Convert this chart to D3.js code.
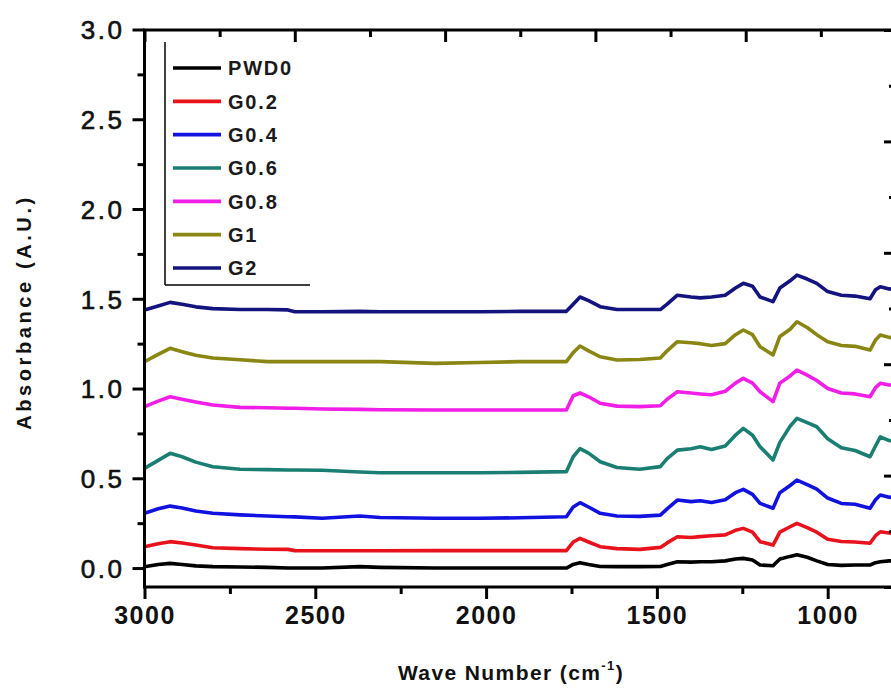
<!DOCTYPE html>
<html>
<head>
<meta charset="utf-8">
<script src="https://cdn.jsdelivr.net/npm/d3@7/dist/d3.min.js"></script>
<style>
  html, body { margin: 0; padding: 0; background: #fff; }
  svg { display: block; font-family: "Liberation Sans", Arial, sans-serif; }
</style>
</head>
<body>
<svg id="chart" width="891" height="688"></svg>
<script>
// ---- Data ----
const waveNumbers = [3000, 2960, 2925, 2890, 2850, 2800, 2720, 2640, 2580, 2560, 2480, 2370, 2310, 2150, 2020, 1900,
  1765, 1745, 1725, 1700, 1666, 1617, 1550, 1490, 1470, 1440, 1400, 1373, 1340, 1300, 1270, 1247, 1220, 1198,
  1160, 1140, 1110, 1090, 1060, 1032, 1000, 960, 920, 876, 860, 846, 820, 800];

const seriesNames = ["PWD0", "G0.2", "G0.4", "G0.6", "G0.8", "G1", "G2"];
const seriesColors = ["#000000", "#e8121c", "#1212e0", "#1a7f72", "#f01ee6", "#8a8614", "#14147e"];

const PWD0 = [0.007, 0.020, 0.026, 0.020, 0.012, 0.008, 0.006, 0.004, 0.000, 0.000, 0.000, 0.008, 0.004, 0.000, 0.000, 0.000,
  0.000, 0.020, 0.030, 0.020, 0.009, 0.008, 0.008, 0.009, 0.020, 0.035, 0.033, 0.035, 0.035, 0.040, 0.050, 0.054, 0.045, 0.017,
  0.013, 0.050, 0.065, 0.074, 0.060, 0.040, 0.020, 0.015, 0.017, 0.017, 0.030, 0.035, 0.040, 0.040];
const G02 = [0.119, 0.135, 0.147, 0.140, 0.128, 0.113, 0.108, 0.105, 0.104, 0.097, 0.096, 0.096, 0.096, 0.097, 0.097, 0.097,
  0.097, 0.145, 0.165, 0.145, 0.119, 0.108, 0.104, 0.115, 0.140, 0.174, 0.170, 0.175, 0.180, 0.185, 0.210, 0.221, 0.200, 0.147,
  0.128, 0.200, 0.230, 0.249, 0.225, 0.200, 0.160, 0.148, 0.145, 0.138, 0.180, 0.202, 0.195, 0.190];
const G04 = [0.305, 0.330, 0.345, 0.335, 0.318, 0.305, 0.296, 0.290, 0.286, 0.285, 0.277, 0.290, 0.282, 0.277, 0.277, 0.280,
  0.286, 0.340, 0.364, 0.340, 0.305, 0.290, 0.288, 0.295, 0.330, 0.379, 0.370, 0.375, 0.365, 0.380, 0.420, 0.438, 0.410, 0.360,
  0.333, 0.420, 0.460, 0.490, 0.465, 0.440, 0.390, 0.360, 0.355, 0.333, 0.380, 0.407, 0.395, 0.390];
const G06 = [0.555, 0.600, 0.639, 0.620, 0.590, 0.564, 0.550, 0.548, 0.546, 0.546, 0.545, 0.535, 0.531, 0.531, 0.531, 0.533,
  0.537, 0.620, 0.665, 0.640, 0.592, 0.560, 0.550, 0.565, 0.610, 0.657, 0.665, 0.676, 0.660, 0.680, 0.740, 0.778, 0.740, 0.676,
  0.602, 0.700, 0.790, 0.834, 0.810, 0.787, 0.720, 0.670, 0.655, 0.620, 0.680, 0.731, 0.710, 0.704];
const G08 = [0.899, 0.930, 0.954, 0.940, 0.925, 0.908, 0.895, 0.893, 0.890, 0.890, 0.886, 0.884, 0.882, 0.880, 0.880, 0.880,
  0.880, 0.960, 0.975, 0.954, 0.918, 0.902, 0.899, 0.904, 0.940, 0.982, 0.975, 0.970, 0.965, 0.985, 1.030, 1.057, 1.030, 0.982,
  0.927, 1.030, 1.070, 1.103, 1.075, 1.045, 1.000, 0.975, 0.970, 0.954, 1.005, 1.029, 1.020, 1.020];
const G1 = [1.149, 1.190, 1.224, 1.205, 1.185, 1.170, 1.160, 1.150, 1.150, 1.150, 1.150, 1.150, 1.150, 1.140, 1.145, 1.150,
  1.150, 1.200, 1.237, 1.210, 1.177, 1.159, 1.162, 1.170, 1.210, 1.261, 1.255, 1.250, 1.240, 1.250, 1.300, 1.326, 1.300, 1.233,
  1.187, 1.290, 1.330, 1.372, 1.340, 1.300, 1.260, 1.240, 1.235, 1.214, 1.270, 1.298, 1.285, 1.280];
const G2 = [1.437, 1.460, 1.480, 1.470, 1.455, 1.445, 1.440, 1.440, 1.438, 1.428, 1.428, 1.430, 1.428, 1.428, 1.428, 1.430,
  1.430, 1.470, 1.510, 1.490, 1.456, 1.440, 1.440, 1.440, 1.470, 1.520, 1.510, 1.505, 1.510, 1.520, 1.560, 1.586, 1.570, 1.510,
  1.484, 1.560, 1.600, 1.632, 1.610, 1.586, 1.540, 1.520, 1.515, 1.500, 1.550, 1.567, 1.555, 1.550];

const seriesValues = [PWD0, G02, G04, G06, G08, G1, G2];

const xTickValues = [3000, 2500, 2000, 1500, 1000];
const yTickValues = [0.0, 0.5, 1.0, 1.5, 2.0, 2.5, 3.0];

// ---- Layout ----
const svg = d3.select("#chart");
const plotLeft = 144.5, plotRight = 896, plotTop = 30, plotBottom = 587;

const x = d3.scaleLinear().domain([3000, 800]).range([plotLeft, plotRight]);
const y = d3.scaleLinear().domain([-0.1, 3.0]).range([plotBottom - 1, plotTop - 0.5]);
// top / right frame axes (independent tick divisions as in the reference)
const xTop = d3.scaleLinear().domain([0, 5]).range([plotLeft, plotRight]);
const yRight = d3.scaleLinear().domain([0, 5]).range([plotBottom, plotTop]);

svg.append("defs").append("clipPath").attr("id", "plotclip")
  .append("rect").attr("x", plotLeft).attr("y", plotTop)
  .attr("width", plotRight - plotLeft).attr("height", plotBottom - plotTop);

// ---- Series ----
const line = d3.line()
  .x((d, i) => x(waveNumbers[i]))
  .y(d => y(d))
  .curve(d3.curveLinear);

const gData = svg.append("g").attr("clip-path", "url(#plotclip)");
seriesValues.forEach((vals, k) => {
  gData.append("path")
    .datum(vals)
    .attr("d", line)
    .attr("fill", "none")
    .attr("stroke", seriesColors[k])
    .attr("stroke-width", 3.6)
    .attr("stroke-linejoin", "round");
});

// ---- Axes ----
const tickLen = 12, minorLen = 7;

// bottom axis (outward ticks)
const bottomAxis = d3.axisBottom(x)
  .tickValues(d3.range(3000, 799, -250))
  .tickSize(0)
  .tickFormat("");
const gB = svg.append("g").attr("transform", `translate(0,${plotBottom})`).call(bottomAxis);
gB.select(".domain").remove();
gB.selectAll(".tick line")
  .attr("y2", d => (d % 500 === 0 ? tickLen : minorLen))
  .attr("stroke", "#000").attr("stroke-width", 3);
gB.selectAll(".tick").filter(d => xTickValues.includes(d)).append("text")
  .attr("y", 37).attr("text-anchor", "middle")
  .attr("fill", "#111").attr("font-size", 25).attr("font-weight", "bold")
  .attr("letter-spacing", 1.5)
  .text(d => d);

// left axis (outward ticks)
const leftAxis = d3.axisLeft(y)
  .tickValues(d3.range(0, 3.01, 0.25))
  .tickSize(0)
  .tickFormat("");
const gL = svg.append("g").attr("transform", `translate(${plotLeft},0)`).call(leftAxis);
gL.select(".domain").remove();
gL.selectAll(".tick line")
  .attr("x2", d => (Math.abs(d * 2 - Math.round(d * 2)) < 1e-6 ? -tickLen : -minorLen))
  .attr("stroke", "#000").attr("stroke-width", 3);
gL.selectAll(".tick").filter(d => yTickValues.some(v => Math.abs(v - d) < 1e-6)).append("text")
  .attr("x", -20).attr("dy", "0.36em").attr("text-anchor", "end")
  .attr("fill", "#111").attr("stroke", "#111").attr("stroke-width", 0.6)
  .attr("font-size", 26)
  .attr("letter-spacing", 2.5)
  .text(d => d.toFixed(1));

// top axis (inward ticks)
const topAxis = d3.axisTop(xTop).tickValues(d3.range(0, 5.01, 0.5)).tickSize(0).tickFormat("");
const gT = svg.append("g").attr("transform", `translate(0,${plotTop})`).call(topAxis);
gT.select(".domain").remove();
gT.selectAll(".tick line")
  .attr("y2", d => (Number.isInteger(d) ? tickLen : minorLen))
  .attr("stroke", "#000").attr("stroke-width", 3);

// right axis (inward ticks)
const rightAxis = d3.axisRight(yRight).tickValues(d3.range(0, 5.01, 0.5)).tickSize(0).tickFormat("");
const gR = svg.append("g").attr("transform", `translate(${plotRight},0)`).call(rightAxis);
gR.select(".domain").remove();
gR.selectAll(".tick line")
  .attr("x2", d => (Number.isInteger(d) ? -tickLen : -minorLen))
  .attr("stroke", "#000").attr("stroke-width", 3);

// frame
svg.append("rect")
  .attr("x", plotLeft).attr("y", plotTop)
  .attr("width", plotRight - plotLeft).attr("height", plotBottom - plotTop)
  .attr("fill", "none").attr("stroke", "#000").attr("stroke-width", 3);

// ---- Axis titles ----
const xt = svg.append("text")
  .attr("x", 511).attr("y", 680).attr("text-anchor", "middle")
  .attr("font-size", 21).attr("font-weight", "bold").attr("fill", "#111")
  .attr("letter-spacing", 1.4);
xt.append("tspan").text("Wave Number (cm");
xt.append("tspan").attr("font-size", 13).attr("dy", -10).text("-1");
xt.append("tspan").attr("dy", 10).text(")");

svg.append("text")
  .attr("transform", "translate(31,312) rotate(-90)")
  .attr("text-anchor", "middle")
  .attr("font-size", 20).attr("font-weight", "bold").attr("fill", "#111")
  .attr("letter-spacing", 3.6)
  .text("Absorbance (A.U.)");

// ---- Legend ----
const legX = 165, legTop = 42, legBottom = 285, legRight = 310;
const gLeg = svg.append("g");
gLeg.append("line").attr("x1", legX).attr("y1", legTop).attr("x2", legX).attr("y2", legBottom)
  .attr("stroke", "#000").attr("stroke-width", 1.5);
gLeg.append("line").attr("x1", legX).attr("y1", legBottom).attr("x2", legRight).attr("y2", legBottom)
  .attr("stroke", "#000").attr("stroke-width", 1.5);
const legY = d3.scaleLinear().domain([0, 6]).range([68, 268]);
seriesNames.forEach((name, k) => {
  const yy = legY(k);
  gLeg.append("line").attr("x1", 173).attr("x2", 221).attr("y1", yy).attr("y2", yy)
    .attr("stroke", seriesColors[k]).attr("stroke-width", 3.6);
  gLeg.append("text").attr("x", 228).attr("y", yy).attr("dy", "0.36em")
    .attr("font-size", 20).attr("font-weight", "bold").attr("fill", "#1a1a1a")
    .attr("letter-spacing", 1.8)
    .text(name);
});
</script>
</body>
</html>
